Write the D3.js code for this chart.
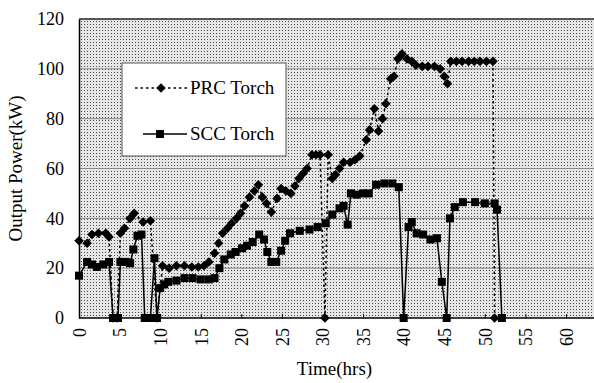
<!DOCTYPE html>
<html>
<head>
<meta charset="utf-8">
<script src="https://cdn.jsdelivr.net/npm/d3@7"></script>
<style>
  body { margin: 0; background: #fff; }
  svg { display: block; font-family: "Liberation Serif", "Times New Roman", serif; }
</style>
</head>
<body>
<div id="chart"></div>
<script>
// PRC torch (diamonds, dashed)
var prcTime = [0, 1.0, 1.6, 2.4, 3.3, 3.7, 4.2, 4.7, 5.1, 5.6, 6.3, 6.8, 7.9, 8.8, 9.6,
  10.3, 11.1, 12.0, 13.0, 13.9, 14.7, 15.4, 16.0, 16.7, 17.2, 17.7, 18.3, 18.8, 19.4, 19.9,
  20.4, 21.0, 21.6, 22.1, 22.6, 23.1, 23.7, 24.4, 24.9, 25.5, 26.1, 26.6, 27.1, 27.6, 28.1,
  28.7, 29.2, 29.7, 30.3, 30.7, 31.2, 31.6, 32.1, 32.6, 33.4, 34.0, 34.6, 35.4, 35.8, 36.4,
  36.9, 37.4, 37.8, 38.4, 38.8, 39.3, 39.8, 40.4, 41.0, 41.5, 42.3, 43.0, 43.8, 44.5, 45.0,
  45.4, 45.8, 46.5, 47.2, 48.0, 48.7, 49.4, 50.2, 51.0, 51.2];
var prcPower = [31, 30, 33.5, 34, 34, 32.5, 0, 0, 34, 36, 40, 42, 38.5, 39, 0,
  21, 20, 21, 21, 20.5, 20.5, 21, 22.5, 26, 30, 34, 36, 38, 40, 42,
  45, 48.5, 51, 53.5, 48.5, 46, 42.5, 48, 52, 51, 50, 53, 56, 58, 60,
  65.5, 65.5, 65.5, 0, 65.5, 56, 57.5, 60, 62.5, 62.5, 63.5, 65, 71.5, 75.5, 84,
  75, 80, 86, 96, 97, 104, 106, 104, 103, 101.5, 101, 101, 101, 100, 97,
  94, 103, 103, 103, 103, 103, 103, 103, 103, 0];

// SCC torch (squares, solid)
var sccTime = [0, 1.0, 1.6, 2.2, 3.0, 3.7, 4.2, 4.8, 5.1, 5.7, 6.3, 6.7, 7.2, 7.7, 8.1,
  8.8, 9.3, 9.6, 10.0, 10.5, 11.0, 12.0, 13.0, 14.0, 15.0, 16.0, 16.7, 17.3, 17.9, 18.7,
  19.3, 20.1, 20.7, 21.4, 22.2, 22.8, 23.2, 23.7, 24.3, 24.9, 25.4, 26.0, 27.2, 28.4, 29.4,
  30.4, 31.2, 32.1, 32.6, 33.1, 33.5, 34.2, 35.0, 35.7, 36.6, 37.6, 38.6, 39.4, 40.0, 40.6,
  41.0, 41.6, 42.4, 43.3, 44.1, 44.7, 45.3, 45.7, 46.3, 47.3, 48.8, 50.0, 51.2, 51.5, 52.1];
var sccPower = [17, 22.5, 21.5, 20.5, 21.5, 22.5, 0, 0, 22.5, 22.5, 22, 27.5, 33, 33.5, 0,
  0, 24, 0, 12, 13.5, 14.5, 15, 16, 16, 15.5, 15.5, 16, 20, 23.5, 25.5,
  26.5, 28, 29, 30.5, 33.5, 31.5, 26.5, 22.5, 22.5, 27, 31, 34, 35, 35.5, 36.5,
  38, 41.5, 44, 45, 37.5, 50, 49.5, 50, 50, 53.5, 54, 54, 52.5, 0, 36.5,
  38.5, 34, 33.5, 31.5, 32, 14.5, 0, 40, 44.5, 46.5, 46.5, 46, 46, 43.5, 0];

var xTicks = [0, 5, 10, 15, 20, 25, 30, 35, 40, 45, 50, 55, 60];
var yTicks = [0, 20, 40, 60, 80, 100, 120];
var gridValues = [20, 40, 60, 80, 100];
var seriesNames = ["PRC Torch", "SCC Torch"];

(function () {
  var width = 594, height = 383;
  var pLeft = 79, pRight = 594, pTop = 19, pBottom = 318;

  var x = d3.scaleLinear().domain([0, 60]).range([pLeft, 566]);
  var y = d3.scaleLinear().domain([0, 120]).range([pBottom, pTop]);

  var svg = d3.select("#chart").append("svg")
    .attr("width", width).attr("height", height);

  // halftone-like background
  var pat = svg.append("defs").append("pattern")
    .attr("id", "dots").attr("patternUnits", "userSpaceOnUse")
    .attr("width", 3).attr("height", 3);
  pat.append("rect").attr("width", 3).attr("height", 3).attr("fill", "#e6e6e6");
  pat.append("rect").attr("width", 1).attr("height", 1).attr("fill", "#4a4a4a");

  svg.append("rect")
    .attr("x", pLeft).attr("y", pTop)
    .attr("width", pRight - pLeft).attr("height", pBottom - pTop)
    .attr("fill", "url(#dots)");

  svg.append("g").selectAll("line").data(gridValues).enter().append("line")
    .attr("x1", pLeft).attr("x2", pRight)
    .attr("y1", function(d){ return y(d); }).attr("y2", function(d){ return y(d); })
    .attr("stroke", "#8a8a8a").attr("stroke-width", 1);

  // top frame
  svg.append("line").attr("x1", pLeft).attr("x2", pRight)
    .attr("y1", y(120)).attr("y2", y(120))
    .attr("stroke", "#222").attr("stroke-width", 1.5);

  // axes (drop d3's default sans-serif so the page font is used)
  var xAxis = svg.append("g").attr("transform", "translate(0," + pBottom + ")")
    .call(d3.axisBottom(x).tickValues(xTicks).tickSizeInner(-4).tickSizeOuter(0))
    .attr("font-family", null).attr("font-size", null);
  xAxis.select(".domain").attr("d", "M" + pLeft + ",0H" + pRight).attr("stroke-width", 1.5);
  xAxis.selectAll("text")
    .attr("transform", "rotate(-90)")
    .attr("x", -10).attr("y", 0).attr("dy", "0.35em")
    .style("text-anchor", "end")
    .style("font-size", "18px").style("fill", "#000");

  var yAxis = svg.append("g").attr("transform", "translate(" + pLeft + ",0)")
    .call(d3.axisLeft(y).tickValues(yTicks).tickSize(0).tickPadding(15))
    .attr("font-family", null).attr("font-size", null);
  yAxis.select(".domain").attr("stroke-width", 1.5);
  yAxis.selectAll("text").style("font-size", "18px").style("fill", "#000");

  svg.append("text")
    .attr("transform", "translate(22," + ((pTop + pBottom) / 2) + ") rotate(-90)")
    .attr("text-anchor", "middle").style("font-size", "19px")
    .text("Output Power(kW)");

  svg.append("text")
    .attr("x", (pLeft + 566) / 2 + 12).attr("y", 375)
    .attr("text-anchor", "middle").style("font-size", "19px")
    .text("Time(hrs)");

  // series
  var prc = prcTime.map(function(t, i){ return [t, prcPower[i]]; });
  var scc = sccTime.map(function(t, i){ return [t, sccPower[i]]; });
  var line = d3.line().x(function(d){ return x(d[0]); }).y(function(d){ return y(d[1]); });

  svg.append("path").datum(prc).attr("d", line)
    .attr("fill", "none").attr("stroke", "#000").attr("stroke-width", 1.5)
    .attr("stroke-dasharray", "2.5,3");
  svg.append("path").datum(scc).attr("d", line)
    .attr("fill", "none").attr("stroke", "#000").attr("stroke-width", 1.5);

  // diamond = square turned 45deg
  var diamond = d3.symbol().type(d3.symbolSquare).size(46);
  svg.append("g").selectAll("path").data(prc).enter().append("path")
    .attr("d", diamond)
    .attr("transform", function(d){ return "translate(" + x(d[0]) + "," + y(d[1]) + ") rotate(45)"; })
    .attr("fill", "#000");

  svg.append("g").selectAll("rect").data(scc).enter().append("rect")
    .attr("x", function(d){ return x(d[0]) - 4; })
    .attr("y", function(d){ return y(d[1]) - 4; })
    .attr("width", 8).attr("height", 8).attr("fill", "#000");

  // legend
  var lg = svg.append("g");
  lg.append("rect").attr("x", 122).attr("y", 63).attr("width", 164).attr("height", 93)
    .attr("fill", "#fff").attr("stroke", "#555").attr("stroke-width", 1);

  lg.append("line").attr("x1", 135).attr("x2", 187).attr("y1", 88).attr("y2", 88)
    .attr("stroke", "#000").attr("stroke-width", 1.5).attr("stroke-dasharray", "2.5,3");
  lg.append("path").attr("d", diamond).attr("transform", "translate(161,88) rotate(45)").attr("fill", "#000");
  lg.append("text").attr("x", 190).attr("y", 94).style("font-size", "19px").text(seriesNames[0]);

  lg.append("line").attr("x1", 143).attr("x2", 187).attr("y1", 134).attr("y2", 134)
    .attr("stroke", "#000").attr("stroke-width", 1.5);
  lg.append("rect").attr("x", 156).attr("y", 130).attr("width", 8).attr("height", 8).attr("fill", "#000");
  lg.append("text").attr("x", 190).attr("y", 140).style("font-size", "19px").text(seriesNames[1]);
})();
</script>
</body>
</html>
